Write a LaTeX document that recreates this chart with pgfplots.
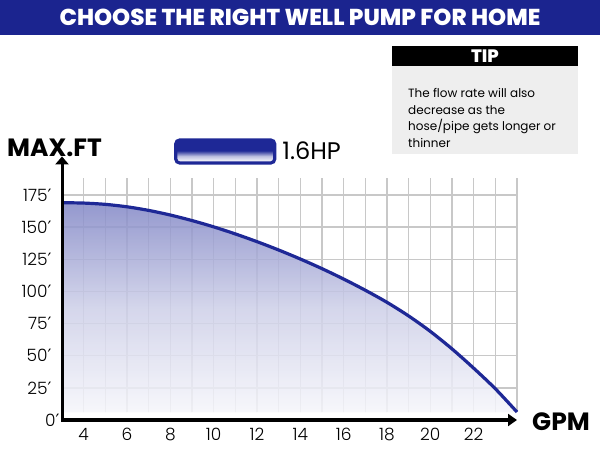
\documentclass[border=0pt]{standalone}
\usepackage{fontspec}
\setmainfont{Poppins}
\newfontfamily\djv{DejaVu Sans}
\newfontfamily\heavy{Poppins ExtraBold}
\newfontfamily\light{Poppins Light}
\usepackage{pgfplots}
\pgfplotsset{compat=1.18}
\usetikzlibrary{arrows.meta}

\definecolor{titleblue}{RGB}{27,36,143}
\definecolor{curveblue}{RGB}{30,40,150}
\definecolor{gridgray}{RGB}{200,200,200}
\definecolor{tipgray}{RGB}{238,238,238}
\definecolor{filltop}{RGB}{130,135,198}
\definecolor{fillmid}{RGB}{205,207,232}
\definecolor{fillbot}{RGB}{246,246,251}

\pgfdeclareverticalshading{legbar}{100bp}{color(0bp)=(white); color(27bp)=(white); color(40bp)=(curveblue!30!white); color(52bp)=(curveblue); color(100bp)=(curveblue)}
\pgfdeclareverticalshading{areafill}{100bp}{color(0bp)=(fillbot); color(25bp)=(fillbot); color(50bp)=(fillmid); color(75bp)=(filltop); color(100bp)=(filltop)}

\newcommand{\ft}{{\djv ′}}

\pgfplotstableread{
gpm ft
3 169
4 168.7
5 167.7
6 165.8
7 163.0
8 159.4
9 155.1
10 150.2
11 144.7
12 138.7
13 132.2
14 125.2
15 117.7
16 109.6
17 100.9
18 91.5
19 80.9
20 68.9
21 55.3
22 40.3
23 24.3
24 6.2
}\pumpdata

\begin{document}
\begin{tikzpicture}[x=1pt,y=1pt]
\useasboundingbox (0,0) rectangle (600,450);
\fill[white] (0,0) rectangle (600,450);
% title band
\fill[titleblue] (0,415) rectangle (600,450);
\node[white, font=\heavy\fontsize{23}{23}\selectfont] at (300,432.5) {CHOOSE THE RIGHT WELL PUMP FOR HOME};
% tip box
\fill[black] (392,384) rectangle (578,404);
\node[white, font=\heavy\fontsize{18}{18}\selectfont] at (485,394) {TIP};
\fill[tipgray] (392,296) rectangle (578,384);
\node[anchor=north west, align=left, inner sep=0pt, font=\fontsize{12}{16.8}\selectfont] at (408,362)
  {The flow rate will also\\decrease as the\\hose/pipe gets longer or\\thinner};
% axis titles
\node[anchor=base west, inner sep=0pt, font=\bfseries\fontsize{25}{25}\selectfont] at (7,293) {MAX.FT};
\node[font=\bfseries\fontsize{25}{25}\selectfont] at (561,28) {GPM};

\begin{axis}[
    at={(62pt,30pt)}, anchor=south west,
    scale only axis, width=455pt, height=263.6pt,
    xmin=3, xmax=24, ymin=0, ymax=205,
    axis line style={draw=none},
    tick style={draw=none},
    clip=false,
    xtick={4,6,...,22},
    ytick={25,50,...,175},
    yticklabels={25\ft,50\ft,75\ft,100\ft,125\ft,150\ft,175\ft},
    extra y ticks={0},
    extra y tick labels={0\ft},
    extra y tick style={yticklabel style={xshift=8pt}},
    ticklabel style={font=\light\fontsize{17}{17}\selectfont},
    xticklabel style={yshift=-5pt},
    yticklabel style={xshift=-7pt},
    /pgf/number format/assume math mode=true,
    legend style={draw=none, fill=none, at={(0.246,1.0186)}, anchor=west,
      inner sep=0pt, font=\fontsize{24}{24}\selectfont,
      nodes={inner xsep=6pt}},
  ]
  % grid
  \pgfplotsinvokeforeach{4,...,24}{
    \draw[gridgray, line width=1.3pt] (axis cs:#1,6) -- (axis cs:#1,188);
  }
  \pgfplotsinvokeforeach{25,50,...,175}{
    \draw[gridgray, line width=1.3pt] (axis cs:3,#1) -- (axis cs:24,#1);
  }
  % area under curve, down to the curve's end level
  \addplot[draw=none, shade, shading=areafill, fill opacity=0.85, forget plot]
    table[x=gpm, y=ft] \pumpdata |- (axis cs:3,6) -- cycle;
  % pump curve
  \addplot[curveblue, line width=3.2pt, smooth,
    legend image code/.code={\shade[shading=legbar, rounded corners=4pt] (0pt,-11.5pt) rectangle (99pt,11.5pt);}]
    table[x=gpm, y=ft] \pumpdata;
  \addlegendentry{1.6HP}
  % axes with arrows
  \draw[line width=3pt, {Triangle[length=8pt,width=13pt]}-{Triangle[length=9pt,width=12pt]}]
    (axis cs:3,205) -- (axis cs:3,0) -- (axis cs:24,0);
\end{axis}
\end{tikzpicture}
\end{document}
